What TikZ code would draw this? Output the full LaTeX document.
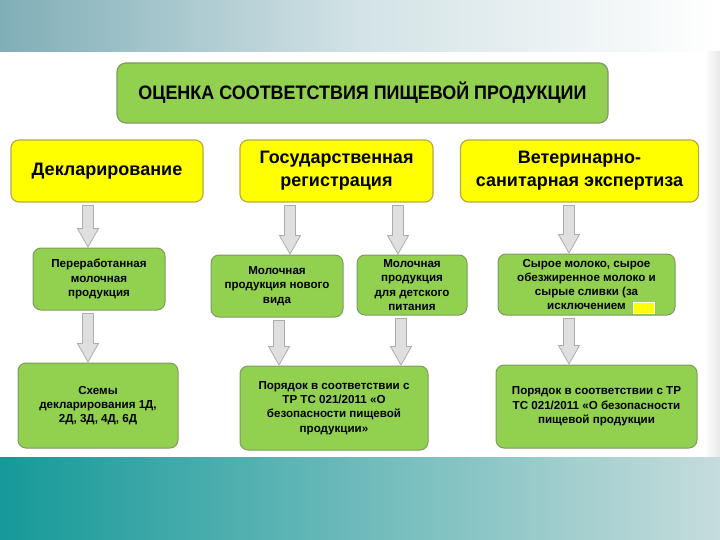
\documentclass[tikz,border=0pt]{standalone}
\usepackage{fontspec}
\setmainfont{Liberation Sans}
\newfontfamily\narrowsans[FakeStretch=0.92]{Liberation Sans}
\usetikzlibrary{calc}

\definecolor{leaf}{HTML}{92D050}
\definecolor{leafline}{HTML}{7F9A62}
\definecolor{lemon}{HTML}{FFFF00}
\definecolor{lemonline}{HTML}{B8A848}
\definecolor{sea}{HTML}{169999}
\definecolor{mist}{HTML}{C6DCDC}
\definecolor{haze}{HTML}{80AEB7}

\tikzset{
  headbox/.style={draw=leafline,fill=leaf,line width=1.2pt,rounded corners=9pt,
    minimum width=491pt,minimum height=60pt,font=\narrowsans\bfseries\fontsize{19.5}{22}\selectfont},
  stagebox/.style={draw=lemonline,fill=lemon,line width=1.2pt,rounded corners=8pt,
    minimum height=62pt,align=center,font=\bfseries\fontsize{18}{23}\selectfont},
  kindbox/.style={draw=leafline,fill=leaf,line width=1pt,rounded corners=8pt,
    align=center,inner sep=1pt,font=\bfseries\fontsize{11.6}{14.3}\selectfont},
  blockarrow/.style={draw=gray!65,fill=gray!25,line width=0.8pt}
}

% block arrow from one box down to the next, at x (in px)
\newcommand\downarrowto[3]{%
  \path[blockarrow] let \p1=(#1.south), \p2=(#2.north) in
    (#3pt-5.5pt,\y1-3pt) -- (#3pt+5.5pt,\y1-3pt) -- (#3pt+5.5pt,\y2+19pt)
    -- (#3pt+10.5pt,\y2+19pt) -- (#3pt,\y2+0.5pt) -- (#3pt-10.5pt,\y2+19pt)
    -- (#3pt-5.5pt,\y2+19pt) -- cycle;
}

\begin{document}
\begin{tikzpicture}[x=1pt,y=-1pt]
  \useasboundingbox (0,0) rectangle (720,540);
  % background bands
  \shade[left color=haze,right color=white,middle color=haze!35] (0,0) rectangle (720,52);
  \shade[left color=white,right color=gray!18] (704,52) rectangle (720,457);
  \shade[left color=sea,right color=mist] (0,457) rectangle (720,540);

  % title
  \node[headbox] (title) at (362.5,93) {ОЦЕНКА СООТВЕТСТВИЯ ПИЩЕВОЙ ПРОДУКЦИИ};

  % stages
  \node[stagebox,minimum width=192pt] (decl) at (107,171) {Декларирование};
  \node[stagebox,minimum width=193pt] (reg) at (336.5,171) {Государственная\\регистрация};
  \node[stagebox,minimum width=238pt] (vet) at (579.5,171) {Ветеринарно-\\санитарная экспертиза};

  % products
  \node[kindbox,minimum width=132pt,minimum height=62pt] (proc) at (99,279)
    {Переработанная\\молочная\\продукция};
  \node[kindbox,minimum width=132pt,minimum height=62pt] (novel) at (277,286)
    {Молочная\\продукция нового\\вида};
  \node[kindbox,minimum width=110pt,minimum height=60pt] (baby) at (412,285)
    {Молочная\\продукция\\для детского\\питания};
  \node[kindbox,minimum width=177pt,minimum height=61pt] (raw) at (586.5,284.5)
    {Сырое молоко, сырое\\обезжиренное молоко и\\сырые сливки (за\\исключением};
  \node[draw=white,fill=lemon,line width=0.8pt,minimum width=21pt,minimum height=11pt,inner sep=0pt]
    (patch) at (644,307.5) {};

  % procedures
  \node[kindbox,minimum width=160pt,minimum height=85pt] (schemes) at (98,405.5)
    {Схемы\\декларирования 1Д,\\2Д, 3Д, 4Д, 6Д};
  \node[kindbox,minimum width=188pt,minimum height=84pt] (orderA) at (334,408)
    {Порядок в соответствии с\\ТР ТС 021/2011 «О\\безопасности пищевой\\продукции»};
  \node[kindbox,minimum width=201pt,minimum height=83pt] (orderB) at (596.5,406.5)
    {Порядок в соответствии с ТР\\ТС 021/2011 «О безопасности\\пищевой продукции};

  % arrows
  \downarrowto{decl}{proc}{88}
  \downarrowto{reg}{novel}{290}
  \downarrowto{reg}{baby}{398}
  \downarrowto{vet}{raw}{569}
  \downarrowto{proc}{schemes}{88}
  \downarrowto{novel}{orderA}{279}
  \downarrowto{baby}{orderA}{401}
  \downarrowto{raw}{orderB}{569}
\end{tikzpicture}
\end{document}
